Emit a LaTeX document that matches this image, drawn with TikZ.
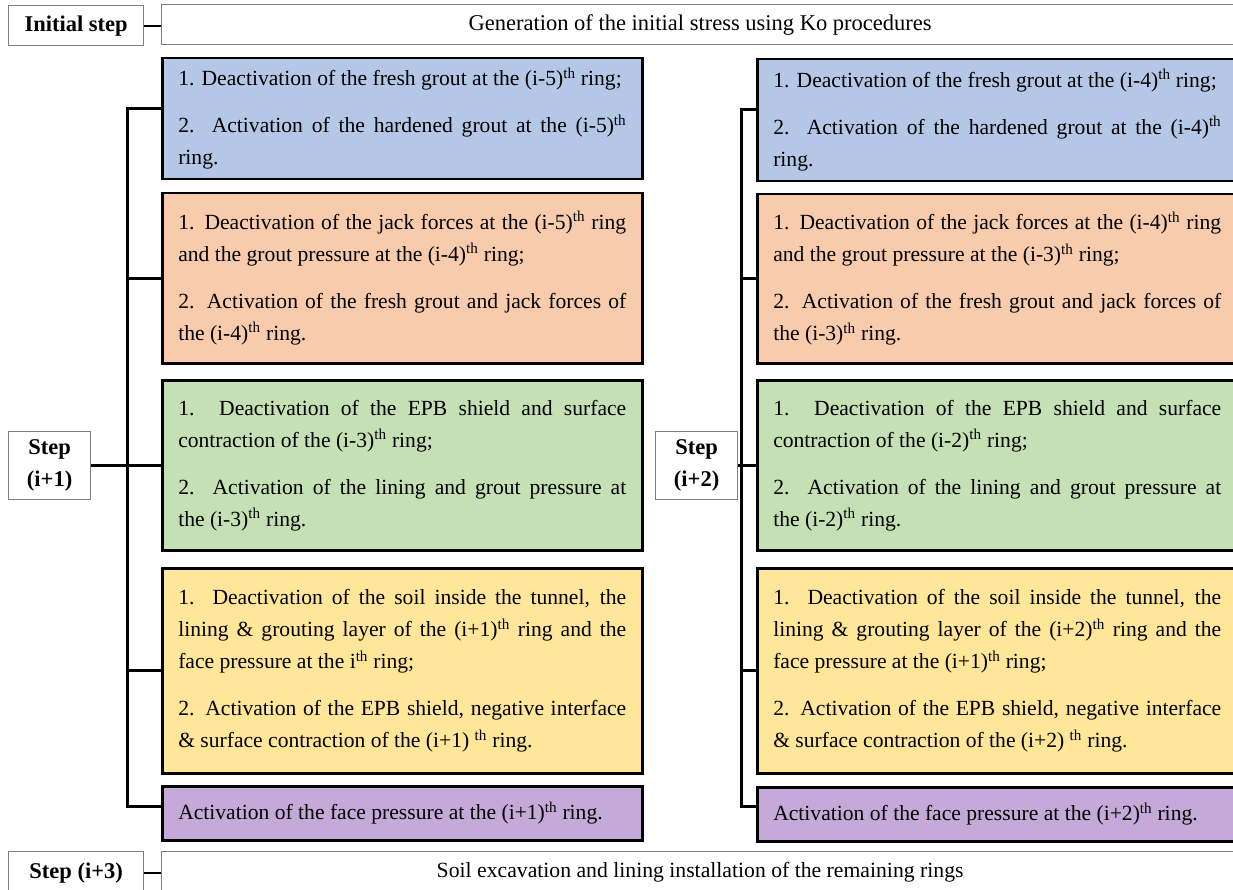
\documentclass[tikz,border=0pt]{standalone}
\usepackage{fontspec}
\setmainfont{Liberation Serif}
\newcommand\bodyfs{\fontsize{21.6pt}{32pt}\selectfont}
\newcommand\pbr{\par\vspace{15pt}}
\newcommand\sth{\textsuperscript{th}}
\definecolor{cblue}{HTML}{B4C7E7}
\definecolor{corange}{HTML}{F8CBAD}
\definecolor{cgreen}{HTML}{C5E0B4}
\definecolor{cyellow}{HTML}{FFE699}
\definecolor{cpurple}{HTML}{C5A9D8}
\definecolor{wborder}{HTML}{7F7F7F}
\tikzset{
  cbox/.style={draw=black, line width=2.5pt, text width=448pt, inner ysep=0pt, inner xsep=16pt,
    align=justify, anchor=north west, font=\bodyfs},
  wbox/.style={draw=wborder, line width=1.2pt, fill=white, anchor=north west, inner sep=0pt,
    align=center, font=\fontsize{22.5pt}{27pt}\selectfont},
  sbox/.style={wbox, font=\fontsize{22.5pt}{32pt}\selectfont\bfseries},
  conn/.style={draw=black, line width=3pt},
}
\begin{document}
\begin{tikzpicture}[x=1pt,y=-1pt]
\useasboundingbox (0,0) rectangle (1233,890);
% top and bottom rows
\node[sbox, minimum width=135pt, minimum height=40pt] (init) at (8,5) {Initial step};
\node[wbox, minimum width=1077pt, minimum height=40pt] (top) at (161,4) {Generation of the initial stress using Ko procedures};
\node[sbox, minimum width=135pt, minimum height=42pt] (s3) at (8,851) {Step (i+3)};
\node[wbox, minimum width=1077pt, minimum height=42pt, font=\fontsize{21.7pt}{26pt}\selectfont] (bot) at (161,851) {Soil excavation and lining installation of the remaining rings};
\draw[conn, line width=2pt] (init.east) -- (init.east -| top.west);
\draw[conn, line width=2pt] (s3.east) -- (s3.east -| bot.west);
% step boxes
\node[sbox, minimum width=82pt, minimum height=68pt] (s1) at (8,431) {Step\\(i+1)};
\node[sbox, minimum width=82pt, minimum height=68pt] (s2) at (655,431) {Step\\(i+2)};
% left column
\node[cbox, fill=cblue, minimum height=121pt] (L1) at (161,57) {1. Deactivation of the fresh grout at the (i-5)\sth{} ring;\pbr 2. Activation of the hardened grout at the (i-5)\sth\linebreak ring.};
\node[cbox, fill=corange, minimum height=170pt] (L2) at (161,192) {1. Deactivation of the jack forces at the (i-5)\sth{} ring\linebreak and the grout pressure at the (i-4)\sth{} ring;\pbr 2. Activation of the fresh grout and jack forces of\linebreak the (i-4)\sth{} ring.};
\node[cbox, fill=cgreen, minimum height=170pt] (L3) at (161,379) {1. Deactivation of the EPB shield and surface\linebreak contraction of the (i-3)\sth{} ring;\pbr 2. Activation of the lining and grout pressure at\linebreak the (i-3)\sth{} ring.};
\node[cbox, fill=cyellow, minimum height=205pt] (L4) at (161,567) {1. Deactivation of the soil inside the tunnel, the\linebreak lining \& grouting layer of the (i+1)\sth{} ring and the\linebreak face pressure at the i\sth{} ring;\pbr 2. Activation of the EPB shield, negative interface\linebreak \& surface contraction of the (i+1) \sth{} ring.};
\node[cbox, fill=cpurple, minimum height=54pt] (L5) at (161,785) {Activation of the face pressure at the (i+1)\sth{} ring.};
% right column
\node[cbox, fill=cblue, minimum height=122pt] (R1) at (756,58) {1. Deactivation of the fresh grout at the (i-4)\sth{} ring;\pbr 2. Activation of the hardened grout at the (i-4)\sth\linebreak ring.};
\node[cbox, fill=corange, minimum height=169pt] (R2) at (756,193) {1. Deactivation of the jack forces at the (i-4)\sth{} ring\linebreak and the grout pressure at the (i-3)\sth{} ring;\pbr 2. Activation of the fresh grout and jack forces of\linebreak the (i-3)\sth{} ring.};
\node[cbox, fill=cgreen, minimum height=170pt] (R3) at (756,379) {1. Deactivation of the EPB shield and surface\linebreak contraction of the (i-2)\sth{} ring;\pbr 2. Activation of the lining and grout pressure at\linebreak the (i-2)\sth{} ring.};
\node[cbox, fill=cyellow, minimum height=205pt] (R4) at (756,567) {1. Deactivation of the soil inside the tunnel, the\linebreak lining \& grouting layer of the (i+2)\sth{} ring and the\linebreak face pressure at the (i+1)\sth{} ring;\pbr 2. Activation of the EPB shield, negative interface\linebreak \& surface contraction of the (i+2) \sth{} ring.};
\node[cbox, fill=cpurple, minimum height=54pt] (R5) at (756,786) {Activation of the face pressure at the (i+2)\sth{} ring.};
% left connectors
\draw[conn] ([yshift=10pt]L1.west) -- ++(-34,0) coordinate (tl) |- ([yshift=7pt]L5.west);
\foreach \n in {L2,L3,L4} \draw[conn] (\n.west) -- (\n.west -| tl);
\draw[conn] (s1.east) -- (s1.east -| tl);
% right connectors
\draw[conn] ([yshift=11pt]R1.west) -- ++(-15,0) coordinate (tr) |- ([yshift=8pt]R5.west);
\foreach \n in {R2,R3,R4} \draw[conn] (\n.west) -- (\n.west -| tr);
\draw[conn] (s2.east) -- (s2.east -| tr);
\end{tikzpicture}
\end{document}
